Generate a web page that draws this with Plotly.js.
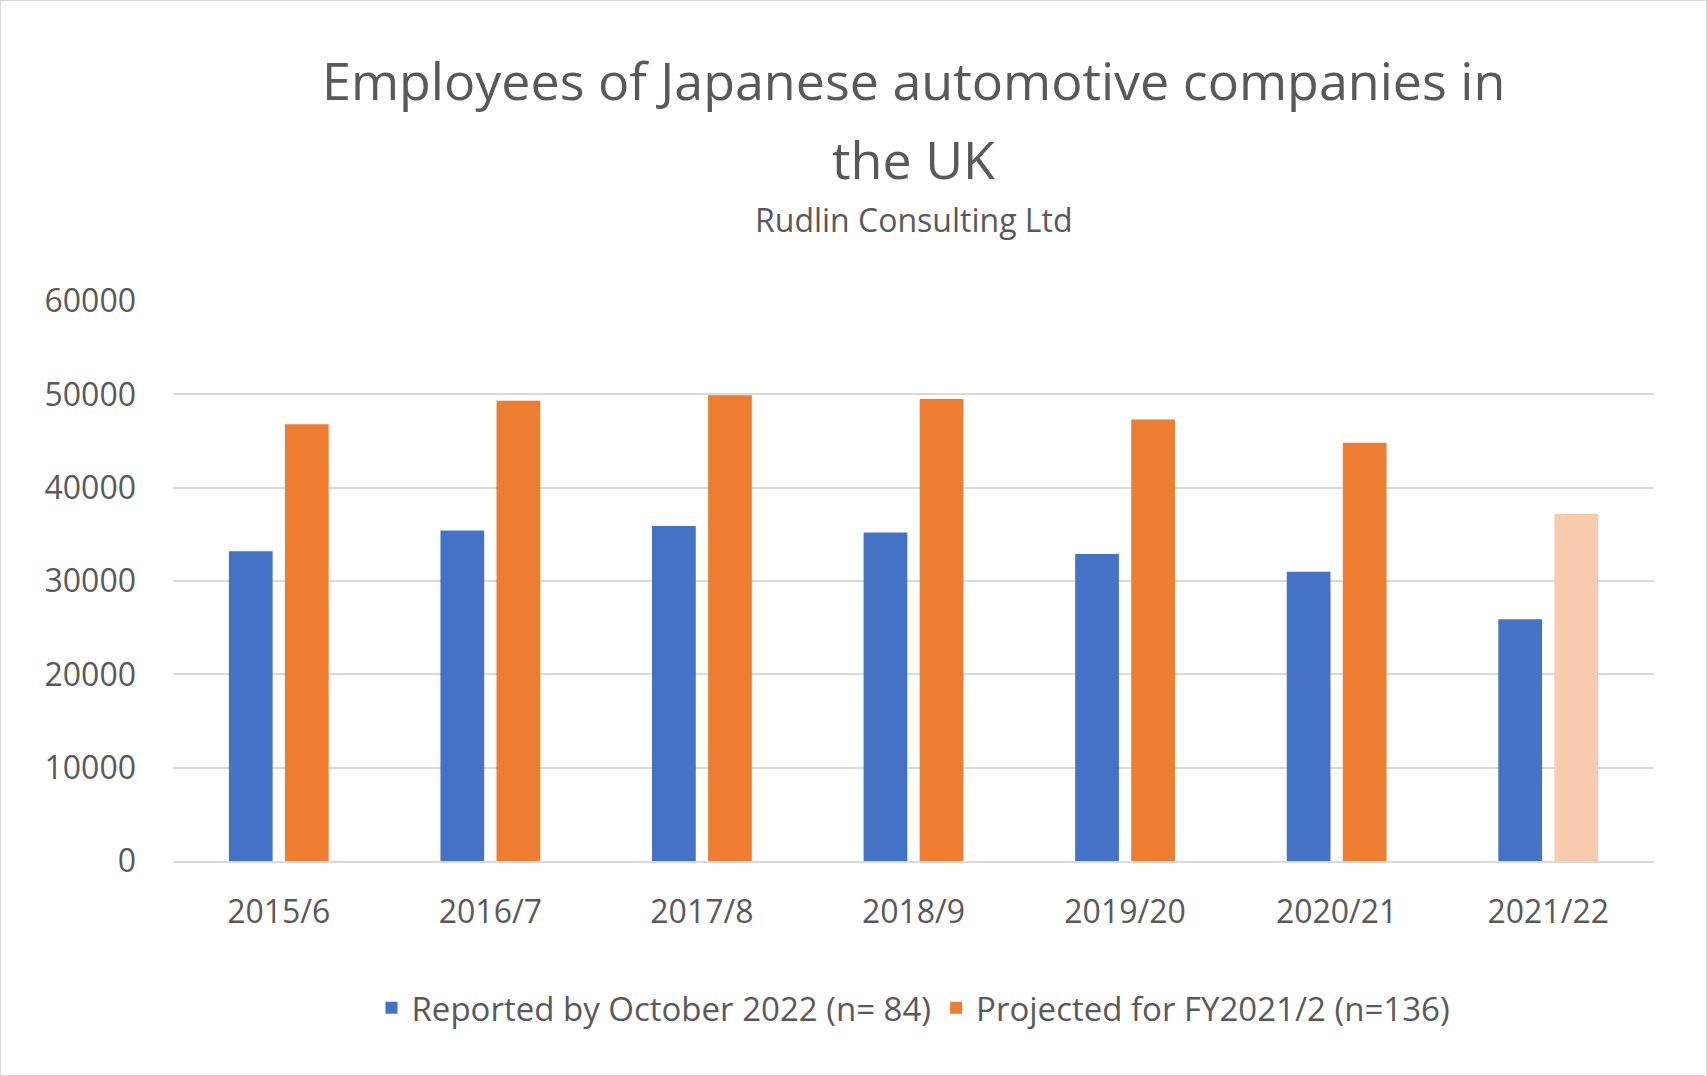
<!DOCTYPE html>
<html><head><meta charset="utf-8">
<script src="https://cdn.plot.ly/plotly-3.0.1.min.js"></script>
<style>body{margin:0;background:#fff}#myDiv{width:1705px;height:1074px;border:1px solid #d9d9d9}</style>
</head><body><div id="myDiv"></div>
<script>
var years = ["2015/6","2016/7","2017/8","2018/9","2019/20","2020/21","2021/22"];
var reported = [33200,35400,35900,35200,32900,31000,25900];
var projected = [46800,49300,49900,49500,47300,44800,37200];
var projColors = ["#ED7D31","#ED7D31","#ED7D31","#ED7D31","#ED7D31","#ED7D31","#F8CBAD"];

var font = "Open Sans, Noto Sans, sans-serif";
var data = [
  {x: years, y: reported, type: "bar", name: "Reported by October 2022 (n= 84)", marker: {color: "#4472C4"}},
  {x: years, y: projected, type: "bar", name: "Projected for FY2021/2 (n=136)", marker: {color: projColors}}
];
var layout = {
  width: 1705, height: 1074,
  font: {family: font, color: "#595959", size: 32},
  margin: {l: 172, r: 52, t: 300, b: 214},
  bargap: 0.47, bargroupgap: 0.22,
  annotations: [
    {text: "Employees of Japanese automotive companies in", xref: "paper", yref: "paper", x: 0.5, y: 1.396,
     showarrow: false, font: {size: 52}, xanchor: "center", yanchor: "middle"},
    {text: "the UK", xref: "paper", yref: "paper", x: 0.5, y: 1.254,
     showarrow: false, font: {size: 52}, xanchor: "center", yanchor: "middle"},
    {text: "Rudlin Consulting Ltd", xref: "paper", yref: "paper", x: 0.5, y: 1.145,
     showarrow: false, font: {size: 32}, xanchor: "center", yanchor: "middle"}
  ],
  xaxis: {showline: true, linecolor: "#d9d9d9", linewidth: 2, tickfont: {size: 32}, ticks: "", ticklabelstandoff: 22},
  yaxis: {range: [0, 60000], dtick: 10000, gridcolor: "#d9d9d9", gridwidth: 2, zeroline: false,
          tickfont: {size: 32}, ticklabelstandoff: 36, tickformat: "d"},
  showlegend: true,
  legend: {orientation: "h", x: 0.5, xanchor: "center", y: -0.262, yanchor: "middle", font: {size: 33}},
  paper_bgcolor: "#fff", plot_bgcolor: "#fff"
};
Plotly.newPlot("myDiv", data, layout, {displayModeBar: false});
</script></body></html>
